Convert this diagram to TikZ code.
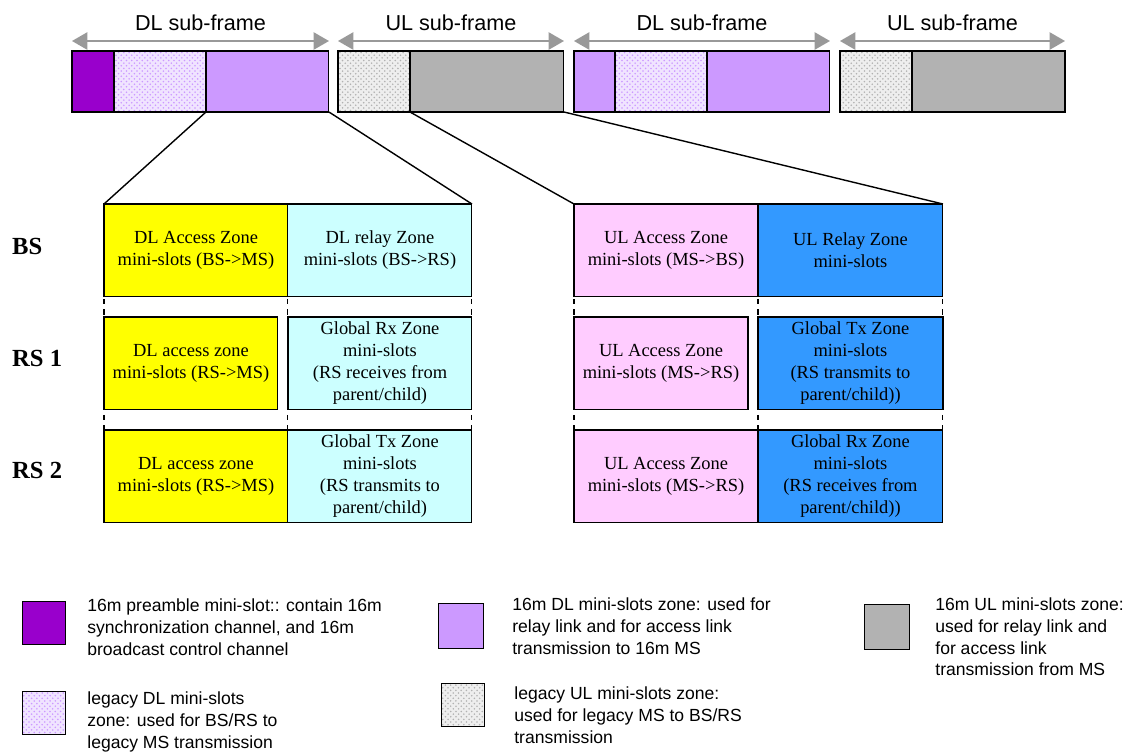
\documentclass[tikz,border=0pt]{standalone}
\usepackage{fontspec}
\setmainfont{Liberation Serif}
\newfontfamily\arialfont{Liberation Sans}
\usetikzlibrary{arrows}
\usetikzlibrary{positioning}
\usetikzlibrary{patterns}
\definecolor{preamb}{HTML}{9900CC}
\definecolor{dlzone}{HTML}{CC99FF}
\definecolor{ulzone}{HTML}{B2B2B2}
\definecolor{dlleg}{HTML}{F0E4FF}
\definecolor{ulleg}{HTML}{EEEEEE}
\definecolor{dlacc}{HTML}{FFFF00}
\definecolor{dlrel}{HTML}{CCFFFF}
\definecolor{ulacc}{HTML}{FFCCFF}
\definecolor{ulrel}{HTML}{3399FF}
\definecolor{spangray}{HTML}{999999}

\begin{document}
\begin{tikzpicture}[
     x=0.02cm, y=-0.02cm,
     seg/.style={draw, line width=0.6pt, minimum height=1.22cm, inner sep=0, outer sep=0, anchor=north west},
     legdl/.style={preaction={fill=dlleg}, pattern=crosshatch dots, pattern color=dlzone},
     legul/.style={preaction={fill=ulleg}, pattern=crosshatch dots, pattern color=ulzone},
     span/.style={spangray, line width=1.4pt, triangle 60-triangle 60},
     sublab/.style={font=\arialfont\fontsize{12.3}{14}\selectfont, text=black},
     zone/.style={draw, line width=0.6pt, minimum height=1.85cm, inner sep=1pt, outer sep=0,
                  align=center, anchor=north west, font=\fontsize{10.5}{12.5}\selectfont},
     rowlab/.style={anchor=west, font=\fontsize{14}{16}\selectfont\bfseries},
     divider/.style={line width=0.6pt, dash pattern=on 3pt off 3pt},
     zoomln/.style={line width=0.8pt},
     keybox/.style={draw, line width=0.6pt, minimum size=0.86cm, inner sep=0, anchor=north west},
     keytext/.style={anchor=north west, inner sep=0, align=left, font=\arialfont\fontsize{10}{12.5}\selectfont}
   ]
   \useasboundingbox (0,0) rectangle (1131,751);
   % Frame structure.
   \node[seg, fill=preamb, minimum width=0.84cm] (pre1) at (72,51) {};
   \node[seg, legdl, minimum width=1.84cm, right=0pt of pre1] (leg1) {};
   \node[seg, fill=dlzone, minimum width=2.46cm, right=0pt of leg1] (dl1) {};
   \node[seg, legul, minimum width=1.44cm] (lul1) at (338,51) {};
   \node[seg, fill=ulzone, minimum width=3.08cm, right=0pt of lul1] (ul1) {};
   \node[seg, fill=dlzone, minimum width=0.82cm] (pre2) at (574,51) {};
   \node[seg, legdl, minimum width=1.84cm, right=0pt of pre2] (leg2) {};
   \node[seg, fill=dlzone, minimum width=2.46cm, right=0pt of leg2] (dl2) {};
   \node[seg, legul, minimum width=1.44cm] (lul2) at (840,51) {};
   \node[seg, fill=ulzone, minimum width=3.06cm, right=0pt of lul2] (ul2) {};
   % Sub-frame spans.
   \draw[span] ([yshift=0.2cm]pre1.north west) -- node[sublab, above=2pt] (sf1) {DL sub-frame} ([yshift=0.2cm]dl1.north east);
   \draw[span] ([yshift=0.2cm]lul1.north west) -- node[sublab, above=2pt] (sf2) {UL sub-frame} ([yshift=0.2cm]ul1.north east);
   \draw[span] ([yshift=0.2cm]pre2.north west) -- node[sublab, above=2pt] (sf3) {DL sub-frame} ([yshift=0.2cm]dl2.north east);
   \draw[span] ([yshift=0.2cm]lul2.north west) -- node[sublab, above=2pt] (sf4) {UL sub-frame} ([yshift=0.2cm]ul2.north east);
   % Row labels.
   \node[rowlab] (bs) at (6,246) {BS};
   \node[rowlab] (rs1) at (6,358) {RS 1};
   \node[rowlab] (rs2) at (6,470) {RS 2};
   % DL zones.
   \node[zone, fill=dlacc, minimum width=3.68cm] (bsa) at (104,204) {DL Access Zone\\mini-slots (BS->MS)};
   \node[zone, fill=dlrel, minimum width=3.68cm, right=0pt of bsa] (bsr) {DL relay Zone\\mini-slots (BS->RS)};
   \node[zone, fill=dlacc, minimum width=3.48cm] (r1a) at (104,317) {DL access zone\\mini-slots (RS->MS)};
   \node[zone, fill=dlrel, minimum width=3.68cm] (r1r) at (288,317) {Global Rx Zone\\mini-slots\\(RS receives from\\parent/child)};
   \node[zone, fill=dlacc, minimum width=3.68cm] (r2a) at (104,430) {DL access zone\\mini-slots (RS->MS)};
   \node[zone, fill=dlrel, minimum width=3.68cm, right=0pt of r2a] (r2r) {Global Tx Zone\\mini-slots\\(RS transmits to\\parent/child)};
   % UL zones.
   \node[zone, fill=ulacc, minimum width=3.68cm] (bsu) at (574,204) {UL Access Zone\\mini-slots (MS->BS)};
   \node[zone, fill=ulrel, minimum width=3.70cm, right=0pt of bsu] (bsy) {UL Relay Zone\\mini-slots};
   \node[zone, fill=ulacc, minimum width=3.48cm] (r1u) at (574,317) {UL Access Zone\\mini-slots (MS->RS)};
   \node[zone, fill=ulrel, minimum width=3.70cm] (r1y) at (758,317) {Global Tx Zone\\mini-slots\\(RS transmits to\\parent/child))};
   \node[zone, fill=ulacc, minimum width=3.68cm] (r2u) at (574,430) {UL Access Zone\\mini-slots (MS->RS)};
   \node[zone, fill=ulrel, minimum width=3.70cm, right=0pt of r2u] (r2y) {Global Rx Zone\\mini-slots\\(RS receives from\\parent/child))};
   % Column dividers.
   \draw[divider] (bsa.north west) -- (r2a.south west);
   \draw[divider] (bsa.north east) -- (r2a.south east);
   \draw[divider] (bsr.north east) -- (r2r.south east);
   \draw[divider] (bsu.north west) -- (r2u.south west);
   \draw[divider] (bsu.north east) -- (r2u.south east);
   \draw[divider] (bsy.north east) -- (r2y.south east);
   % Zoom lines.
   \draw[zoomln] (dl1.south west) -- (bsa.north west);
   \draw[zoomln] (dl1.south east) -- (bsr.north east);
   \draw[zoomln] (ul1.south west) -- (bsu.north west);
   \draw[zoomln] (ul1.south east) -- (bsy.north east);
   % Legend.
   \node[keybox, fill=preamb] (k1) at (22,601) {};
   \node[keytext] (t1) at (87,598) {16m preamble mini-slot:: contain 16m\\synchronization channel, and 16m\\broadcast control channel};
   \node[keybox, legdl] (k2) at (22,691) {};
   \node[keytext] (t2) at (87,691) {legacy DL mini-slots\\zone: used for BS/RS to\\legacy MS transmission};
   \node[keybox, fill=dlzone, minimum size=0.9cm] (k3) at (438,603) {};
   \node[keytext] (t3) at (512,597) {16m DL mini-slots zone: used for\\relay link and for access link\\transmission to 16m MS};
   \node[keybox, legul] (k4) at (441,683) {};
   \node[keytext] (t4) at (514,686) {legacy UL mini-slots zone:\\used for legacy MS to BS/RS\\transmission};
   \node[keybox, fill=ulzone, minimum size=0.9cm] (k5) at (864,604) {};
   \node[keytext] (t5) at (935,597) {16m UL mini-slots zone:\\used for relay link and\\for access link\\transmission from MS};
 \end{tikzpicture}
\end{document}
